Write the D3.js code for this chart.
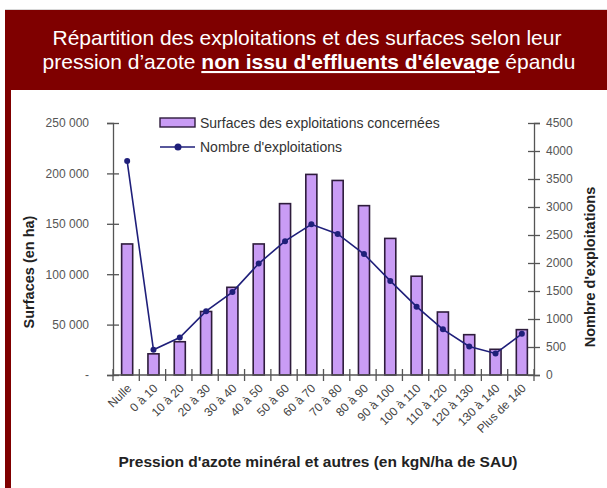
<!DOCTYPE html>
<html>
<head>
<meta charset="utf-8">
<script src="https://cdn.jsdelivr.net/npm/d3@7"></script>
<style>
  body { margin: 0; background: #fff; }
  svg { display: block; font-family: "Liberation Sans", Arial, sans-serif; }
</style>
</head>
<body>
<svg id="chart" width="607" height="488"></svg>
<script>
// categories (pression d'azote, kgN/ha SAU)
var categories = ['Nulle', '0 à 10', '10 à 20', '20 à 30', '30 à 40', '40 à 50', '50 à 60', '60 à 70',
    '70 à 80', '80 à 90', '90 à 100', '100 à 110', '110 à 120', '120 à 130', '130 à 140', 'Plus de 140'];
// surfaces (ha)
var surfaces = [130000, 21000, 33000, 63000, 87000, 130000, 170000, 199000,
    193000, 168000, 135500, 98000, 62500, 40000, 25500, 45000];
// nombre d'exploitations
var exploitations = [3820, 450, 670, 1140, 1480, 1990, 2390, 2690,
    2520, 2160, 1680, 1220, 815, 510, 385, 735];
var leftTicks = [0, 50000, 100000, 150000, 200000, 250000];
var rightTicks = [0, 500, 1000, 1500, 2000, 2500, 3000, 3500, 4000, 4500];

var svg = d3.select('#chart');
var font = '"Liberation Sans", Arial, sans-serif';

// frame
svg.append('line').attr('x1', 5).attr('x2', 607).attr('y1', 9.5).attr('y2', 9.5)
    .attr('stroke', '#d8d8d8');
svg.append('rect').attr('x', 5).attr('y', 10).attr('width', 602).attr('height', 80).attr('fill', '#7f0000');
svg.append('rect').attr('x', 5).attr('y', 90).attr('width', 6).attr('height', 398).attr('fill', '#7f0000');

var title = svg.append('text').attr('fill', '#fff').attr('font-size', 21).attr('text-anchor', 'middle');
title.append('tspan').attr('x', 307).attr('y', 45).text('Répartition des exploitations et des surfaces selon leur');
var t2 = title.append('tspan').attr('x', 309).attr('y', 69);
t2.append('tspan').text('pression d’azote ');
t2.append('tspan').attr('font-weight', 'bold').attr('text-decoration', 'underline').text("non issu d'effluents d'élevage");
t2.append('tspan').text(' épandu');

var plotLeft = 113, plotRight = 534, plotTop = 123, plotBottom = 375;

var x = d3.scaleBand().domain(categories).range([plotLeft, plotRight]).padding(0);
var yL = d3.scaleLinear().domain([0, 250000]).range([plotBottom, plotTop]);
var yR = d3.scaleLinear().domain([0, 4500]).range([plotBottom, plotTop]);

var fmt = function(d){
    if(d == 0) return '-';
    return d3.format(',')(d).replace(/,/g, ' ');
};

// left axis
var gL = svg.append('g').attr('transform', 'translate(' + plotLeft + ',0)')
    .call(d3.axisLeft(yL).tickValues(leftTicks).tickFormat(fmt).tickSize(6).tickPadding(18));
gL.selectAll('.tick line').attr('x1', -6).attr('x2', 6);

// right axis
var gR = svg.append('g').attr('transform', 'translate(' + plotRight + ',0)')
    .call(d3.axisRight(yR).tickValues(rightTicks).tickFormat(d3.format('d')).tickSize(6).tickPadding(6));
gR.selectAll('.tick line').attr('x1', -6).attr('x2', 6);

[gL, gR].forEach(function(g){
    g.select('.domain').attr('stroke', '#555').attr('stroke-width', 1.3);
    g.selectAll('.tick line').attr('stroke', '#555').attr('stroke-width', 1.3);
    g.selectAll('.tick text').attr('fill', '#555').attr('font-size', 12).attr('font-family', font);
});

// bars
var barW = x.bandwidth() * 0.42;
svg.append('g').selectAll('rect')
        .data(surfaces)
    .enter()
        .append('rect')
        .attr('x', function(d, i){ return x(categories[i]) + (x.bandwidth() - barW) / 2 + 1; })
        .attr('y', function(d){ return yL(d); })
        .attr('width', barW)
        .attr('height', function(d){ return plotBottom - yL(d); })
        .attr('fill', '#c99cf5')
        .attr('stroke', '#2e1c3c')
        .attr('stroke-width', 1.6);

// x axis
var gX = svg.append('g').attr('transform', 'translate(0,' + plotBottom + ')');
gX.append('line').attr('x1', plotLeft).attr('x2', plotRight).attr('stroke', '#555').attr('stroke-width', 1.3);
gX.selectAll('line.tk')
        .data(categories.concat(['end']))
    .enter()
        .append('line')
        .attr('class', 'tk')
        .attr('x1', function(d, i){ return i < categories.length ? x(d) : plotRight; })
        .attr('x2', function(d, i){ return i < categories.length ? x(d) : plotRight; })
        .attr('y1', -6).attr('y2', 6)
        .attr('stroke', '#555').attr('stroke-width', 1.3);
gX.selectAll('text')
        .data(categories)
    .enter()
        .append('text')
        .attr('transform', function(d){
            return 'translate(' + (x(d) + x.bandwidth() / 2 + 6) + ',14) rotate(-45)';
        })
        .attr('text-anchor', 'end')
        .attr('font-size', 12)
        .attr('fill', '#444')
        .text(function(d){ return d; });

// line
var line = d3.line()
    .x(function(d, i){ return x(categories[i]) + x.bandwidth() / 2 + 1; })
    .y(function(d){ return yR(d); });
svg.append('path').datum(exploitations)
    .attr('d', line)
    .attr('fill', 'none')
    .attr('stroke', '#1f1f7a')
    .attr('stroke-width', 1.6);
svg.append('g').selectAll('circle')
        .data(exploitations)
    .enter()
        .append('circle')
        .attr('cx', function(d, i){ return x(categories[i]) + x.bandwidth() / 2 + 1; })
        .attr('cy', function(d){ return yR(d); })
        .attr('r', 3)
        .attr('fill', '#1f1f7a');

// legend
var lg = svg.append('g');
lg.append('rect').attr('x', 160).attr('y', 118).attr('width', 35).attr('height', 9)
    .attr('fill', '#c99cf5').attr('stroke', '#2e1c3c').attr('stroke-width', 1.4);
lg.append('text').attr('x', 200).attr('y', 128).attr('font-size', 14).attr('fill', '#333')
    .text('Surfaces des exploitations concernées');
lg.append('line').attr('x1', 160).attr('x2', 195).attr('y1', 147).attr('y2', 147)
    .attr('stroke', '#1f1f7a').attr('stroke-width', 1.6);
lg.append('circle').attr('cx', 178).attr('cy', 147).attr('r', 3.5).attr('fill', '#1f1f7a');
lg.append('text').attr('x', 200).attr('y', 152).attr('font-size', 14).attr('fill', '#333')
    .text("Nombre d'exploitations");

// axis titles
svg.append('text').attr('transform', 'translate(34,272) rotate(-90)')
    .attr('text-anchor', 'middle').attr('font-size', 14.5).attr('font-weight', 'bold').attr('fill', '#222')
    .text('Surfaces (en ha)');
svg.append('text').attr('transform', 'translate(595,267) rotate(-90)')
    .attr('text-anchor', 'middle').attr('font-size', 14.5).attr('font-weight', 'bold').attr('fill', '#222')
    .text("Nombre d'exploitations");
svg.append('text').attr('x', 318).attr('y', 467)
    .attr('text-anchor', 'middle').attr('font-size', 15.5).attr('font-weight', 'bold').attr('fill', '#222')
    .text("Pression d'azote minéral et autres (en kgN/ha de SAU)");
</script>
</body>
</html>
